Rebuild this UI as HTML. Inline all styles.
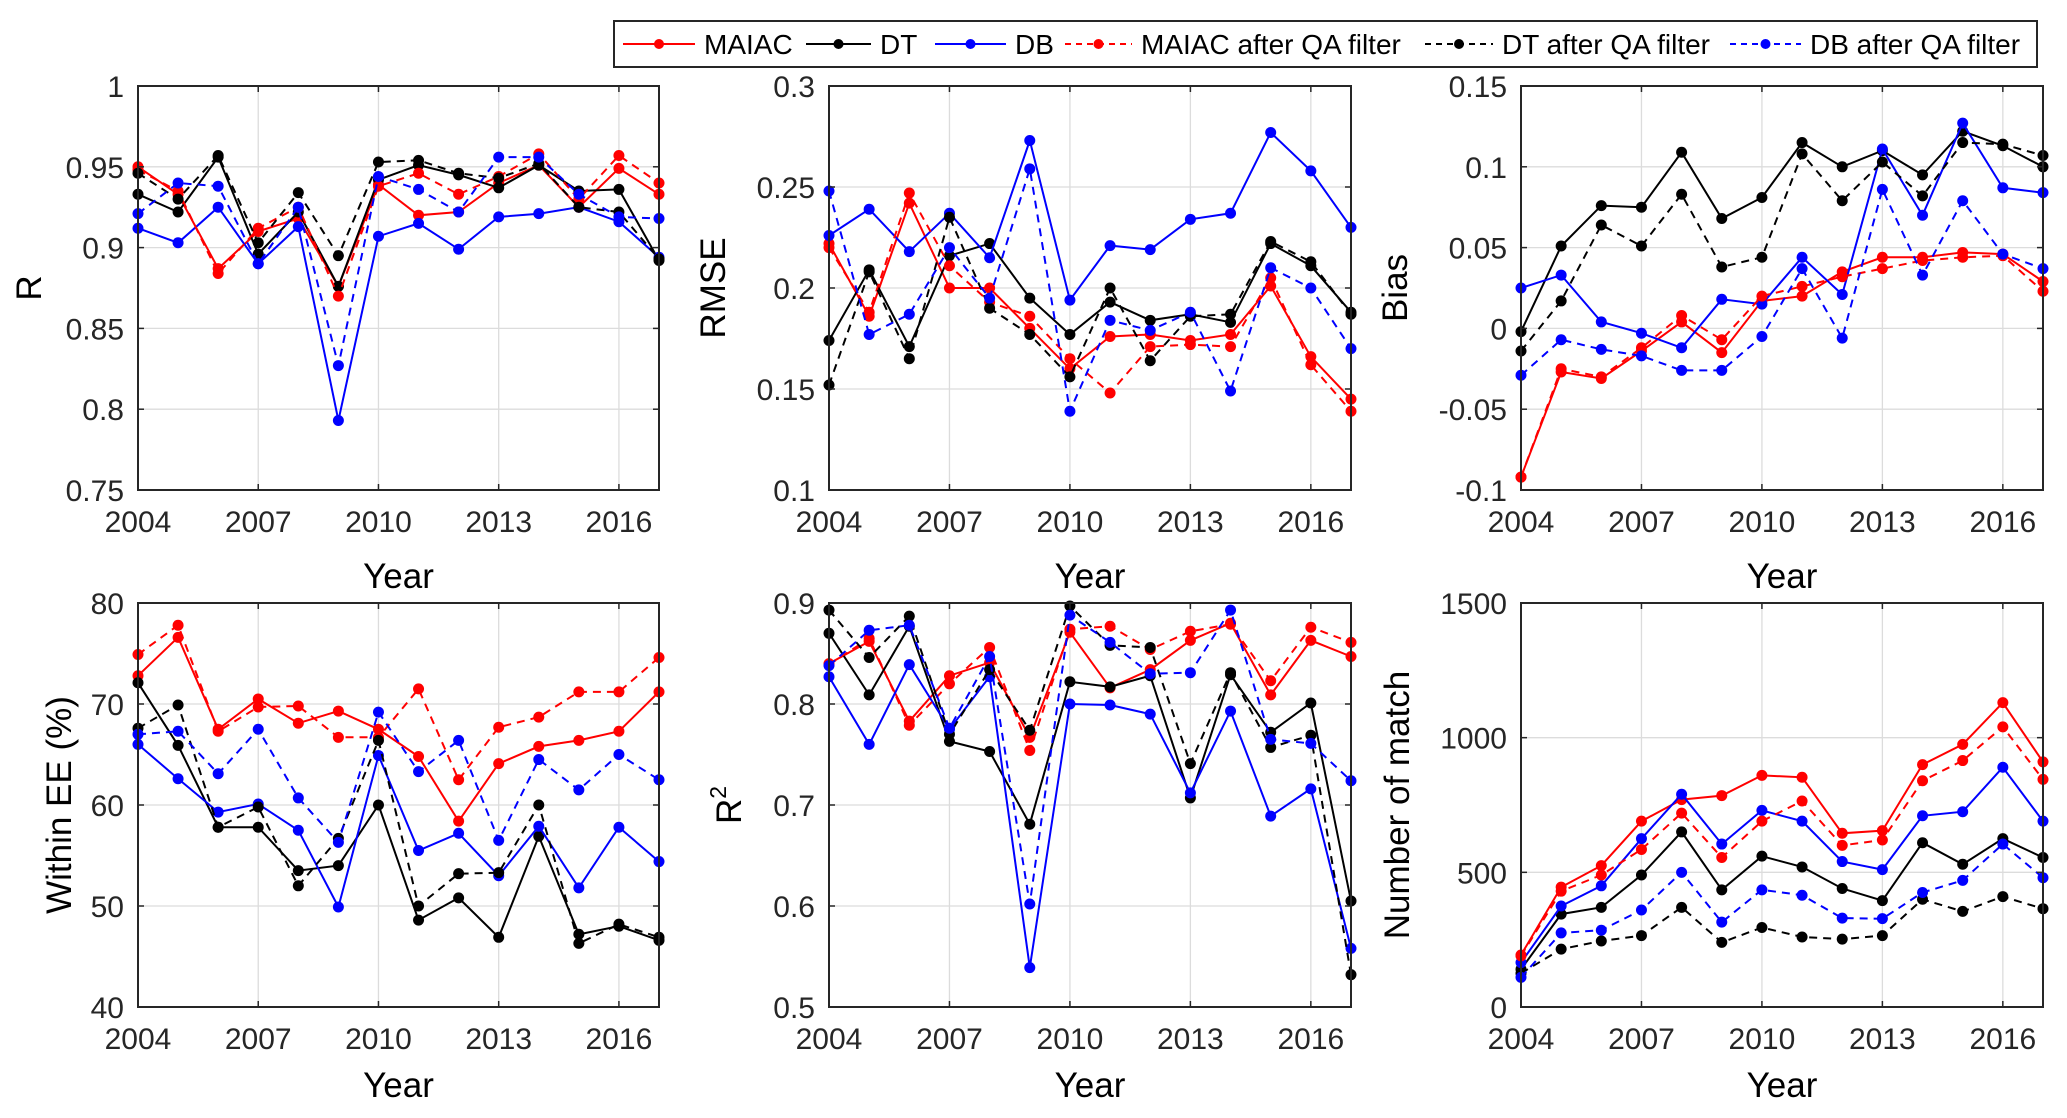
<!DOCTYPE html>
<html><head><meta charset="utf-8">
<style>
html,body{margin:0;padding:0;background:#fff;}
svg{display:block;font-family:"Liberation Sans",Arial,sans-serif;}
</style></head>
<body>
<svg id="fig" width="2067" height="1118" viewBox="0 0 2067 1118">
<rect width="2067" height="1118" fill="#fff"/>
<g id="legend"></g>
</svg>
<script>
const years = [2004,2005,2006,2007,2008,2009,2010,2011,2012,2013,2014,2015,2016,2017];
const xTicks = [2004,2007,2010,2013,2016];
// Panel R
const rMaiac   = [.950,.933,.887,.910,.918,.876,.939,.920,.922,.940,.951,.925,.949,.933];
const rMaiacQA = [.948,.935,.884,.912,.925,.870,.938,.946,.933,.944,.958,.930,.957,.940];
const rDT      = [.933,.922,.956,.896,.922,.876,.942,.951,.945,.937,.951,.935,.936,.892];
const rDTQA    = [.946,.930,.957,.903,.934,.895,.953,.954,.946,.943,.952,.925,.922,.893];
const rDB      = [.912,.903,.925,.890,.913,.793,.907,.915,.899,.919,.921,.925,.916,.894];
const rDBQA    = [.921,.940,.938,.890,.925,.827,.944,.936,.922,.956,.956,.933,.919,.918];
const rTicks = [0.75,0.8,0.85,0.9,0.95,1];
const rTickLabels = ["0.75","0.8","0.85","0.9","0.95","1"];
// Panel RMSE
const eMaiac   = [.222,.186,.242,.200,.200,.180,.160,.176,.177,.174,.177,.201,.166,.145];
const eMaiacQA = [.220,.188,.247,.211,.193,.186,.165,.148,.171,.172,.171,.205,.162,.139];
const eDT      = [.174,.209,.171,.216,.222,.195,.177,.193,.184,.187,.183,.222,.211,.188];
const eDTQA    = [.152,.208,.165,.235,.190,.177,.156,.200,.164,.186,.187,.223,.213,.187];
const eDB      = [.226,.239,.218,.237,.215,.273,.194,.221,.219,.234,.237,.277,.258,.230];
const eDBQA    = [.248,.177,.187,.220,.195,.259,.139,.184,.179,.188,.149,.210,.200,.170];
const eTicks = [0.1,0.15,0.2,0.25,0.3];
const eTickLabels = ["0.1","0.15","0.2","0.25","0.3"];
// Panel Bias
const bMaiac   = [-.092,-.027,-.031,-.014,.004,-.015,.017,.020,.035,.044,.044,.047,.046,.029];
const bMaiacQA = [-.092,-.025,-.030,-.012,.008,-.007,.020,.026,.032,.037,.042,.044,.045,.023];
const bDT      = [-.002,.051,.076,.075,.109,.068,.081,.115,.100,.110,.095,.122,.113,.100];
const bDTQA    = [-.014,.017,.064,.051,.083,.038,.044,.108,.079,.103,.082,.115,.114,.107];
const bDB      = [.025,.033,.004,-.003,-.012,.018,.015,.044,.021,.111,.070,.127,.087,.084];
const bDBQA    = [-.029,-.007,-.013,-.017,-.026,-.026,-.005,.037,-.006,.086,.033,.079,.046,.037];
const bTicks = [-0.1,-0.05,0,0.05,0.1,0.15];
const bTickLabels = ["-0.1","-0.05","0","0.05","0.1","0.15"];
// Panel Within EE
const wMaiac   = [72.8,76.6,67.5,70.5,68.1,69.3,67.5,64.8,58.4,64.1,65.8,66.4,67.3,71.2];
const wMaiacQA = [74.9,77.8,67.3,69.7,69.8,66.7,66.7,71.5,62.5,67.7,68.7,71.2,71.2,74.6];
const wDT      = [72.1,65.9,57.8,57.8,53.5,54.0,60.0,48.6,50.8,46.9,56.9,47.2,48.0,46.6];
const wDTQA    = [67.6,69.9,57.8,59.8,52.0,56.7,66.4,50.0,53.2,53.3,60.0,46.3,48.2,46.9];
const wDB      = [66.0,62.6,59.3,60.1,57.5,49.9,64.9,55.5,57.2,53.0,57.9,51.8,57.8,54.4];
const wDBQA    = [67.0,67.3,63.1,67.5,60.7,56.3,69.2,63.3,66.4,56.5,64.5,61.5,65.0,62.5];
const wTicks = [40,50,60,70,80];
const wTickLabels = ["40","50","60","70","80"];
// Panel R2
const qMaiac   = [.840,.862,.783,.828,.841,.767,.871,.816,.834,.863,.880,.809,.863,.847];
const qMaiacQA = [.839,.865,.779,.820,.856,.754,.874,.877,.854,.872,.879,.823,.876,.861];
const qDT      = [.870,.809,.877,.763,.753,.681,.822,.817,.828,.707,.829,.772,.801,.605];
const qDTQA    = [.893,.846,.887,.770,.834,.774,.897,.858,.856,.741,.831,.757,.769,.532];
const qDB      = [.827,.760,.839,.775,.827,.539,.800,.799,.790,.712,.793,.689,.716,.558];
const qDBQA    = [.838,.873,.878,.776,.847,.602,.888,.861,.830,.831,.893,.765,.761,.724];
const qTicks = [0.5,0.6,0.7,0.8,0.9];
const qTickLabels = ["0.5","0.6","0.7","0.8","0.9"];
// Panel Number of match
const nMaiac   = [193,445,525,690,770,785,860,853,645,655,900,975,1130,910];
const nMaiacQA = [190,430,490,585,720,555,690,765,600,620,840,915,1040,845];
const nDT      = [140,345,370,490,650,435,560,520,440,395,610,530,625,555];
const nDTQA    = [125,215,245,265,370,240,295,260,252,265,400,355,410,365];
const nDB      = [165,375,450,625,790,605,730,690,540,510,710,725,890,690];
const nDBQA    = [110,275,285,360,500,315,435,415,330,328,425,470,605,480];
const nTicks = [0,500,1000,1500];
const nTickLabels = ["0","500","1000","1500"];

const NS="http://www.w3.org/2000/svg";
const svg=document.getElementById('fig');
function mk(tag,attrs,parent){const e=document.createElementNS(NS,tag);for(const k in attrs)e.setAttribute(k,attrs[k]);(parent||svg).appendChild(e);return e;}

const styles=[
 {key:'maiac',color:'#ff0000',dash:null},
 {key:'dt',color:'#000000',dash:null},
 {key:'db',color:'#0000ff',dash:null},
 {key:'maiac-qa',color:'#ff0000',dash:'8,6'},
 {key:'dt-qa',color:'#000000',dash:'8,6'},
 {key:'db-qa',color:'#0000ff',dash:'8,6'}
];

function panel(cfg){
  const g=mk('g',{});
  
  
  const L=cfg.box[0],T=cfg.box[1],R=cfg.box[2],B=cfg.box[3];
  const xs=v=>L+(v-2004)/(2017-2004)*(R-L);
  const ys=v=>B-(v-cfg.ymin)/(cfg.ymax-cfg.ymin)*(B-T);
  xTicks.forEach(t=>{const l=mk('line',{x1:xs(t),x2:xs(t),y1:T,y2:B,stroke:'#dcdcdc','stroke-width':1.3},g);
    });
  cfg.ticks.forEach(t=>{const l=mk('line',{x1:L,x2:R,y1:ys(t),y2:ys(t),stroke:'#dcdcdc','stroke-width':1.3},g);
    });
  cfg.series.forEach((vals,i)=>{
    const st=styles[i];
    const sg=mk('g',{},g);
    
    
    const pts=vals.map((v,j)=>xs(years[j]).toFixed(1)+','+ys(v).toFixed(1)).join(' ');
    const a={points:pts,fill:'none',stroke:st.color,'stroke-width':2};
    if(st.dash)a['stroke-dasharray']=st.dash;
    const pl=mk('polyline',a,sg);
    
    
    vals.forEach((v,j)=>{const c=mk('circle',{cx:xs(years[j]),cy:ys(v),r:5.5,fill:st.color},sg);
      
      });
  });
  const bx=mk('rect',{x:L,y:T,width:R-L,height:B-T,fill:'none',stroke:'#262626','stroke-width':2},g);
  
  xTicks.forEach(t=>{
    mk('line',{x1:xs(t),x2:xs(t),y1:B,y2:B-6,stroke:'#262626','stroke-width':1.5},g);
    mk('line',{x1:xs(t),x2:xs(t),y1:T,y2:T+6,stroke:'#262626','stroke-width':1.5},g);
    const tx=mk('text',{x:xs(t),y:B+42,'text-anchor':'middle','font-size':30,fill:'#262626'},g);
    tx.textContent=t;
    
  });
  cfg.ticks.forEach((t,i)=>{
    mk('line',{x1:L,x2:L+6,y1:ys(t),y2:ys(t),stroke:'#262626','stroke-width':1.5},g);
    mk('line',{x1:R,x2:R-6,y1:ys(t),y2:ys(t),stroke:'#262626','stroke-width':1.5},g);
    const tx=mk('text',{x:L-14,y:ys(t)+11,'text-anchor':'end','font-size':30,fill:'#262626'},g);
    tx.textContent=cfg.tickLabels[i];
    
  });
  const xl=mk('text',{x:(L+R)/2,y:B+cfg.xtOff,'text-anchor':'middle','font-size':35,fill:'#000'},g);
  xl.textContent='Year';
  
  const yl=mk('text',{x:0,y:0,'text-anchor':'middle','font-size':35,fill:'#000',
    transform:'translate('+cfg.ylx+','+((T+B)/2)+') rotate(-90)'},g);
  if(cfg.sup){yl.textContent=cfg.ylabel;const s=mk('tspan',{dy:-15,'font-size':23},yl);s.textContent=cfg.sup;}
  else yl.textContent=cfg.ylabel;
  
}

panel({name:'r',box:[138,86,659,490],ymin:.75,ymax:1,ticks:rTicks,tickLabels:rTickLabels,ylabel:'R',ylx:41,xtOff:98,
  series:[rMaiac,rDT,rDB,rMaiacQA,rDTQA,rDBQA]});
panel({name:'rmse',box:[829,86,1351,490],ymin:.1,ymax:.3,ticks:eTicks,tickLabels:eTickLabels,ylabel:'RMSE',ylx:725,xtOff:98,
  series:[eMaiac,eDT,eDB,eMaiacQA,eDTQA,eDBQA]});
panel({name:'bias',box:[1521,86,2043,490],ymin:-.1,ymax:.15,ticks:bTicks,tickLabels:bTickLabels,ylabel:'Bias',ylx:1407,xtOff:98,
  series:[bMaiac,bDT,bDB,bMaiacQA,bDTQA,bDBQA]});
panel({name:'within-ee',box:[138,603,659,1007],ymin:40,ymax:80,ticks:wTicks,tickLabels:wTickLabels,ylabel:'Within EE  (%)',ylx:71,xtOff:90,
  series:[wMaiac,wDT,wDB,wMaiacQA,wDTQA,wDBQA]});
panel({name:'r2',box:[829,603,1351,1007],ymin:.5,ymax:.9,ticks:qTicks,tickLabels:qTickLabels,ylabel:'R',sup:'2',ylx:741,xtOff:90,
  series:[qMaiac,qDT,qDB,qMaiacQA,qDTQA,qDBQA]});
panel({name:'number-of-match',box:[1521,603,2043,1007],ymin:0,ymax:1500,ticks:nTicks,tickLabels:nTickLabels,ylabel:'Number of match',ylx:1409,xtOff:90,
  series:[nMaiac,nDT,nDB,nMaiacQA,nDTQA,nDBQA]});

const lg=document.getElementById('legend');
svg.appendChild(lg);
const lb=mk('rect',{x:614,y:21,width:1423,height:46,fill:'#fff',stroke:'#262626','stroke-width':2},lg);

const legendLabels=['MAIAC','DT','DB','MAIAC after QA filter','DT after QA filter','DB after QA filter'];
const legendLineX=[623,806,935,1065,1425,1730];
const legendLineW=[72,65,71,67,68,71];
legendLabels.forEach((lab,i)=>{
  const st=styles[i];
  const eg=mk('g',{},lg);
  
  
  const a={x1:legendLineX[i],x2:legendLineX[i]+legendLineW[i],y1:44,y2:44,stroke:st.color,'stroke-width':2};
  if(st.dash)a['stroke-dasharray']='6,5';
  mk('line',a,eg);
  mk('circle',{cx:legendLineX[i]+legendLineW[i]/2,cy:44,r:5,fill:st.color},eg);
  const t=mk('text',{x:legendLineX[i]+legendLineW[i]+9,y:54,'font-size':28,fill:'#000'},eg);
  t.textContent=lab;
});
</script>
</body></html>
